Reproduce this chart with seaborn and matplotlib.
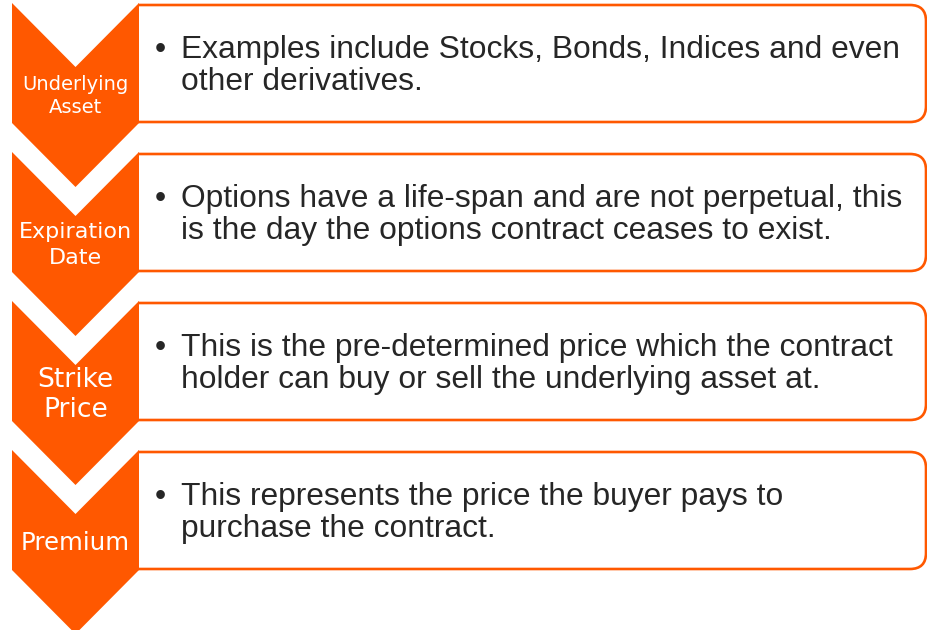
import matplotlib
matplotlib.use("Agg")
import matplotlib.pyplot as plt
import seaborn as sns
from matplotlib.patches import Polygon, FancyBboxPatch, Rectangle

sns.set_theme(style="white")
plt.rcParams['font.family'] = ['Liberation Sans', 'DejaVu Sans']

# ---- content ----
step_labels = [["Underlying", "Asset"], ["Expiration", "Date"], ["Strike", "Price"], ["Premium"]]
label_sizes_px = [19.5, 22.3, 26.5, 24.5]
descriptions = [
    ["Examples include Stocks, Bonds, Indices and even", "other derivatives."],
    ["Options have a life-span and are not perpetual, this", "is the day the options contract ceases to exist."],
    ["This is the pre-determined price which the contract", "holder can buy or sell the underlying asset at."],
    ["This represents the price the buyer pays to", "purchase the contract."],
]

ORANGE = "#FF5800"
TEXT = "#262626"

W, H = 927, 630
fig = plt.figure(figsize=(W / 100, H / 100), dpi=100)
ax = fig.add_axes([0, 0, 1, 1])
ax.set_xlim(0, W)
ax.set_ylim(H, 0)
ax.axis("off")

px = 0.72  # pixel -> point at dpi 100
pitch = 149
x_l, x_r = 12, 139
xc = (x_l + x_r) / 2
side_h, notch = 120, 64
body_px = 31.8

for i, (lab, desc) in enumerate(zip(step_labels, descriptions)):
    y0 = 3 + i * pitch
    # text box (rounded rectangle; left part clipped at the chevron edge)
    box = FancyBboxPatch((100, y0 + 2), 926 - 100, side_h - 3,
                         boxstyle="round,pad=0,rounding_size=16",
                         facecolor="white", edgecolor=ORANGE, linewidth=1.9, zorder=1)
    ax.add_patch(box)
    clip = Rectangle((x_r - 0.5, y0 - 5), W, side_h + 10, transform=ax.transData)
    box.set_clip_path(clip)
    # chevron
    pts = [(x_l, y0), (xc, y0 + notch), (x_r, y0), (x_r, y0 + side_h),
           (xc, y0 + side_h + notch), (x_l, y0 + side_h)]
    ax.add_patch(Polygon(pts, closed=True, facecolor=ORANGE, edgecolor="none", zorder=2))
    # chevron label
    fs = label_sizes_px[i]
    body_c = y0 + (notch + side_h) / 2 - 1
    n = len(lab)
    ls = fs * 1.15
    for j, line in enumerate(lab):
        yy = body_c + (j - (n - 1) / 2) * ls
        ax.text(xc, yy, line, ha="center", va="center_baseline", color="white",
                fontsize=fs * px, family="DejaVu Sans", zorder=3)
    # bullet text
    base1 = y0 + 54.7
    ax.text(160, base1 - 11, "\u2022", ha="center", va="center_baseline", color=TEXT,
            fontsize=body_px * px, zorder=3)
    for j, line in enumerate(desc):
        ax.text(181, base1 + j * 32.3, line, ha="left", va="baseline", color=TEXT,
                fontsize=body_px * px, zorder=3)

fig.savefig("out.png", dpi=100)
